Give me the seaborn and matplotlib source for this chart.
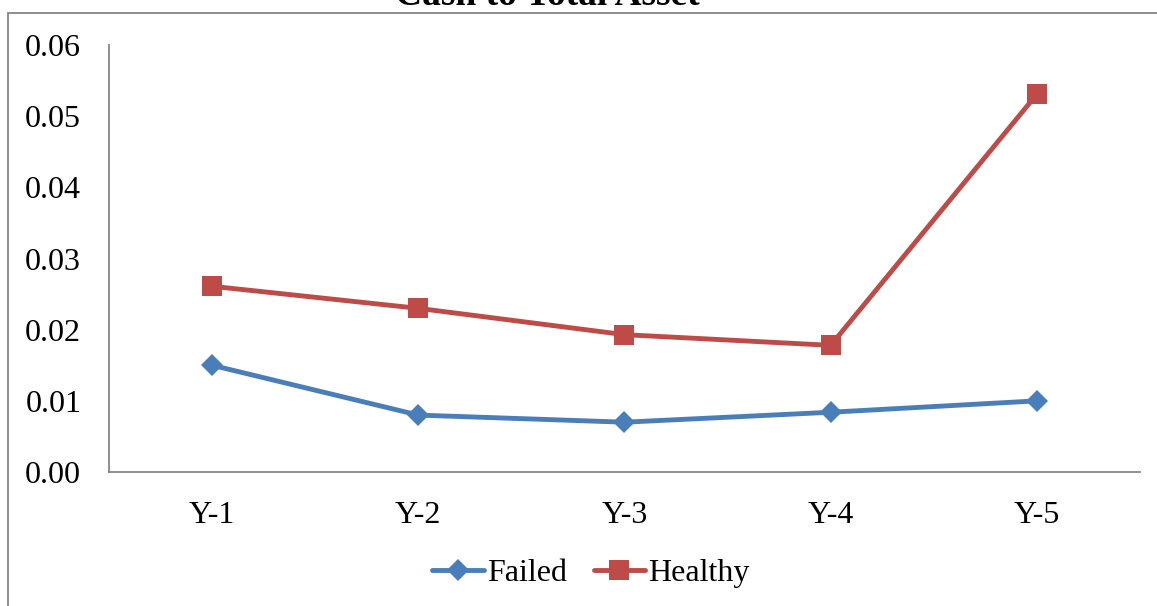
import matplotlib
matplotlib.use("Agg")
import matplotlib.pyplot as plt
import seaborn as sns
import pandas as pd
from matplotlib.patches import Rectangle

years = ["Y-1", "Y-2", "Y-3", "Y-4", "Y-5"]
failed = [0.0150, 0.0080, 0.0070, 0.0084, 0.0100]
healthy = [0.0261, 0.0230, 0.0193, 0.0178, 0.0531]
y_ticks = [0.00, 0.01, 0.02, 0.03, 0.04, 0.05, 0.06]
title = "Cash to Total Asset"

df = pd.DataFrame({
    "Year": years * 2,
    "Ratio": failed + healthy,
    "Group": ["Failed"] * len(years) + ["Healthy"] * len(years),
})

sns.set_theme(style="white")
plt.rcParams["font.family"] = ["Liberation Serif", "DejaVu Serif"]
plt.rcParams["text.color"] = "black"

fig = plt.figure(figsize=(11.57, 6.06), dpi=100)
ax = fig.add_axes([0.0942, 0.2211, 0.8911, 0.7046])

palette = {"Failed": "#4A7EBB", "Healthy": "#BE4B48"}
markers = {"Failed": "D", "Healthy": "s"}
sizes = {"Failed": 11.5, "Healthy": 14}
for grp in ["Failed", "Healthy"]:
    sub = df[df["Group"] == grp]
    sns.lineplot(data=sub, x="Year", y="Ratio", ax=ax, color=palette[grp],
                 marker=markers[grp], markersize=sizes[grp], linewidth=3.5,
                 markeredgewidth=0, label=grp, sort=False)

ax.set_xlim(-0.5, 4.5)
ax.set_ylim(0, 0.06)
ax.set_yticks(y_ticks)
ax.set_yticklabels([f"{v:.2f}" for v in y_ticks])
ax.set_xlabel("")
ax.set_ylabel("")
ax.tick_params(axis="both", length=0, labelsize=23, pad=20, colors="black")
ax.tick_params(axis="x", pad=21)
for s in ["top", "right"]:
    ax.spines[s].set_visible(False)
for s in ["left", "bottom"]:
    ax.spines[s].set_color("#868686")
    ax.spines[s].set_linewidth(1.3)
ax.grid(False)

handles, labels = ax.get_legend_handles_labels()
ax.legend_.remove()
fig.legend(handles, labels, loc="center", bbox_to_anchor=(591 / 1157, 1 - 573 / 606),
           ncol=2, frameon=False, fontsize=23, handlelength=1.6,
           handletextpad=0.1, columnspacing=0.85, labelcolor="black")

# outer chart border
fig.patches.append(Rectangle((8 / 1157, -0.1), 1.2, 0.1 + (1 - 13 / 606),
                             transform=fig.transFigure, fill=False,
                             edgecolor="#868686", linewidth=1.3))

fig.text(547 / 1157, 1 - 5 / 606, title, ha="center", va="baseline",
         fontsize=27, fontweight="bold", color="black")

fig.savefig("out.png", dpi=100)
